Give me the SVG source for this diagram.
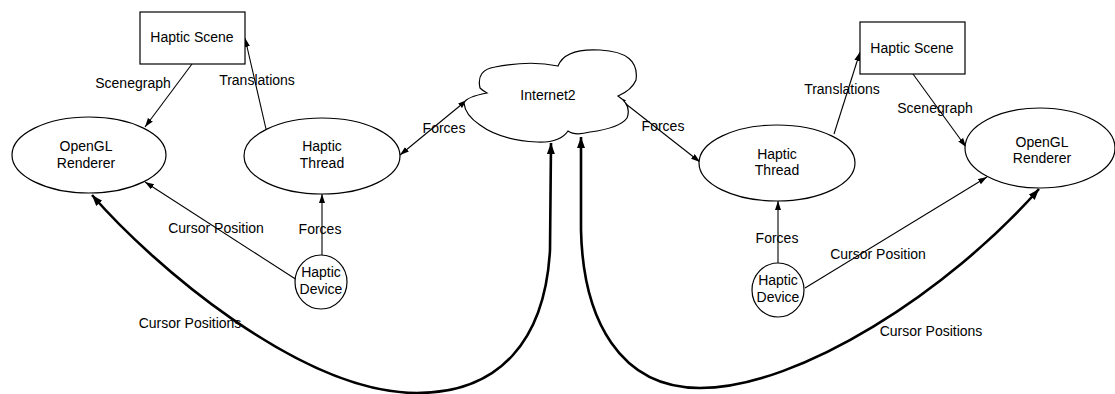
<svg xmlns="http://www.w3.org/2000/svg" width="1115" height="394" viewBox="0 0 1115 394">
<defs>
<marker id="a" markerUnits="userSpaceOnUse" markerWidth="10" markerHeight="8" refX="9" refY="3" orient="auto-start-reverse"><path d="M0,0 L9,3 L0,6 z" fill="#000"/></marker>
<marker id="b" markerUnits="userSpaceOnUse" markerWidth="12" markerHeight="10" refX="11" refY="4" orient="auto-start-reverse"><path d="M0,0 L11,4 L0,8 z" fill="#000"/></marker>
</defs>
<style>
.n{fill:#fff;stroke:#000;stroke-width:1.2}
.t{font-family:"Liberation Sans",Arial,sans-serif;font-size:14px;fill:#000;text-anchor:middle}
.c{fill:none;stroke:#000;stroke-width:1.1}
.k{fill:none;stroke:#000;stroke-width:2.6}
</style>
<rect width="1115" height="394" fill="#fff"/>
<g id="connectors">
<line class="c" x1="192" y1="64" x2="145" y2="127" marker-end="url(#a)"/>
<line class="c" x1="266" y1="129" x2="245" y2="38" marker-end="url(#a)"/>
<line class="c" x1="467" y1="100" x2="400" y2="155" marker-start="url(#a)" marker-end="url(#a)"/>
<line class="c" x1="617" y1="97" x2="700" y2="162" marker-start="url(#a)" marker-end="url(#a)"/>
<line class="c" x1="834" y1="134" x2="860" y2="52" marker-end="url(#a)"/>
<line class="c" x1="913" y1="74" x2="966" y2="147" marker-end="url(#a)"/>
<line class="c" x1="322" y1="255" x2="322" y2="194" marker-end="url(#a)"/>
<line class="c" x1="297" y1="280" x2="145" y2="182" marker-end="url(#a)"/>
<line class="c" x1="778" y1="263" x2="778" y2="201" marker-end="url(#a)"/>
<line class="c" x1="805" y1="288" x2="987" y2="177" marker-end="url(#a)"/>
<path class="k" d="M92,195 C150,262 300,393 417,393 C500,393 545,340 550,250 L551,143" marker-start="url(#b)" marker-end="url(#b)"/>
<path class="k" d="M581,137 L581,230 C583,320 620,388 700,388 C800,388 950,290 1039,189" marker-start="url(#b)" marker-end="url(#b)"/>
</g>
<g id="haptic-scene-left"><rect class="n" x="140" y="12" width="105" height="52"/><text class="t" x="192" y="42">Haptic Scene</text></g>
<g id="opengl-left"><ellipse class="n" cx="89" cy="155" rx="77" ry="38"/><text class="t" x="86" y="151">OpenGL</text><text class="t" x="86" y="168">Renderer</text></g>
<g id="thread-left"><ellipse class="n" cx="322" cy="156" rx="78" ry="38"/><text class="t" x="322" y="151">Haptic</text><text class="t" x="322" y="168">Thread</text></g>
<g id="device-left"><ellipse class="n" cx="321" cy="282" rx="26" ry="27"/><text class="t" x="321" y="277">Haptic</text><text class="t" x="321" y="294">Device</text></g>
<g id="internet2"><path class="n" d="M480,88 Q476,70 495,67 Q530,60 558,66 Q565,48 600,50 Q640,52 636,80 Q632,90 618,96 Q632,105 627,118 Q620,128 590,132 Q575,136 568,131 Q560,143 537,142 Q500,140 480,125 Q465,115 464,103 Q466,97 487,93 Q482,90 480,88 Z"/><text class="t" x="548" y="100">Internet2</text></g>
<g id="haptic-scene-right"><rect class="n" x="860" y="22" width="105" height="52"/><text class="t" x="912" y="53">Haptic Scene</text></g>
<g id="thread-right"><ellipse class="n" cx="777" cy="163" rx="78" ry="38"/><text class="t" x="777" y="159">Haptic</text><text class="t" x="777" y="175">Thread</text></g>
<g id="opengl-right"><ellipse class="n" cx="1040" cy="148" rx="75" ry="40"/><text class="t" x="1042" y="147">OpenGL</text><text class="t" x="1042" y="163">Renderer</text></g>
<g id="device-right"><ellipse class="n" cx="778" cy="290" rx="26" ry="27"/><text class="t" x="778" y="285">Haptic</text><text class="t" x="778" y="302">Device</text></g>
<g id="labels">
<text class="t" x="133" y="88">Scenegraph</text>
<text class="t" x="257" y="85">Translations</text>
<text class="t" x="444" y="133">Forces</text>
<text class="t" x="663" y="131">Forces</text>
<text class="t" x="842" y="94">Translations</text>
<text class="t" x="935" y="113">Scenegraph</text>
<text class="t" x="216" y="233">Cursor Position</text>
<text class="t" x="320" y="234">Forces</text>
<text class="t" x="190" y="328">Cursor Positions</text>
<text class="t" x="777" y="243">Forces</text>
<text class="t" x="878" y="259">Cursor Position</text>
<text class="t" x="931" y="336">Cursor Positions</text>
</g>
</svg>
